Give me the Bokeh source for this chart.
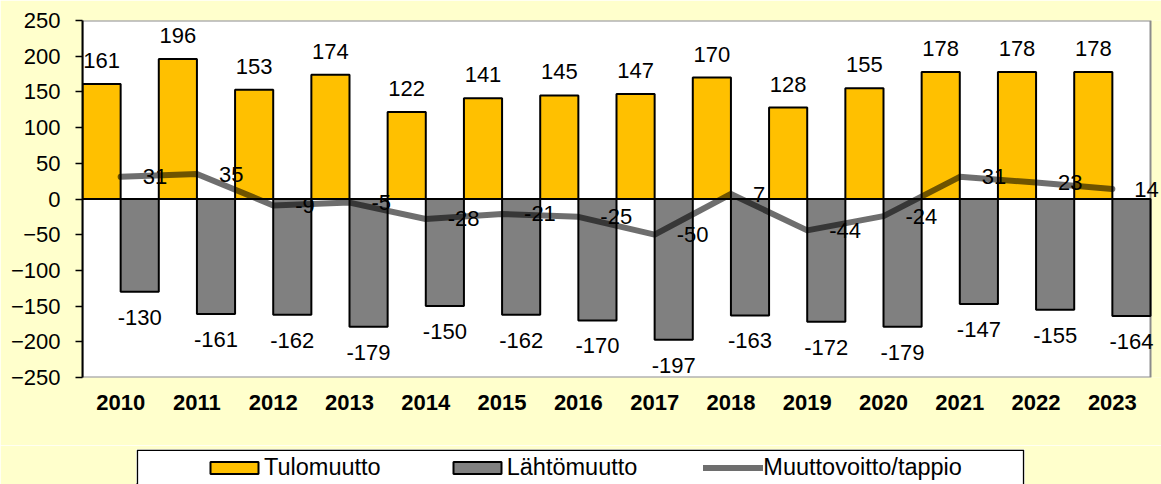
from bokeh.plotting import figure
from bokeh.models import (ColumnDataSource, Legend, LegendItem, Range1d, FixedTicker,
                          LabelSet, BoxAnnotation)
from bokeh.transform import dodge
from bokeh.layouts import column
from bokeh.embed import file_html
from bokeh.resources import INLINE
from bokeh.core.properties import value

# ---- data ----
years = ["2010", "2011", "2012", "2013", "2014", "2015", "2016",
         "2017", "2018", "2019", "2020", "2021", "2022", "2023"]
tulomuutto = [161, 196, 153, 174, 122, 141, 145, 147, 170, 128, 155, 178, 178, 178]
lahtomuutto = [-130, -161, -162, -179, -150, -162, -170, -197, -163, -172, -179, -147, -155, -164]
nettomuutto = [31, 35, -9, -5, -28, -21, -25, -50, 7, -44, -24, 31, 23, 14]
y_ticks = [-250, -200, -150, -100, -50, 0, 50, 100, 150, 200, 250]
series_names = ["Tulomuutto", "Lähtömuutto", "Muuttovoitto/tappio"]

FONT = "Liberation Sans"
BG = "#FFFFCC"
ORANGE = "#FFC000"
GREY = "#808080"

n = len(years)
x_center = [i + 0.5 for i in range(n)]   # category centres on a numeric axis

src = ColumnDataSource(dict(
    xc=x_center, tulo=tulomuutto, lahto=lahtomuutto, netto=nettomuutto,
    tulo_lbl=[str(v) for v in tulomuutto],
    lahto_lbl=[str(v) for v in lahtomuutto],
    netto_lbl=[str(v) for v in nettomuutto],
))

# frame runs to the right window edge so that labels past the last category stay visible
p = figure(width=1161, height=445,
           x_range=Range1d(0, n * 1079 / 1068),
           y_range=Range1d(y_ticks[0], y_ticks[-1]),
           output_backend="svg", toolbar_location=None,
           min_border_left=82, min_border_right=0,
           min_border_top=20, min_border_bottom=68)
p.frame_align = False
p.background_fill_color = BG
p.border_fill_color = BG
p.outline_line_color = None
p.grid.visible = False

# white plot area with grey border (top / right / bottom)
p.add_layout(BoxAnnotation(left=0, right=n, bottom=y_ticks[0], top=y_ticks[-1],
                           fill_color="white", fill_alpha=1.0,
                           line_color="#8c8c8c", line_alpha=1.0, line_width=2,
                           level="underlay"))

r1 = p.vbar(x=dodge("xc", -0.25), top="tulo", bottom=0, width=0.5,
            source=src, fill_color=ORANGE, line_color="black", line_width=2)
r2 = p.vbar(x=dodge("xc", 0.25), top="lahto", bottom=0, width=0.5,
            source=src, fill_color=GREY, line_color="black", line_width=2)
# zero (category) axis line
p.add_layout(BoxAnnotation(left=0, right=n, bottom=0, top=0, fill_alpha=0,
                           line_color="black", line_alpha=1.0, line_width=2))
r3 = p.line(x="xc", y="netto", source=src, line_color="black", line_alpha=0.57,
            line_width=6, line_join="round", line_cap="round")

lbl_style = dict(text_font=value(FONT), text_font_size="22px", text_color="black")
p.add_layout(LabelSet(x=dodge("xc", -0.25), y="tulo", text="tulo_lbl",
                      source=src, text_align="center", text_baseline="alphabetic",
                      y_offset=16, **lbl_style))
p.add_layout(LabelSet(x=dodge("xc", 0.25), y="lahto", text="lahto_lbl",
                      source=src, text_align="center", text_baseline="alphabetic",
                      y_offset=-33, **lbl_style))
p.add_layout(LabelSet(x="xc", y="netto", text="netto_lbl", source=src,
                      text_align="left", text_baseline="middle", x_offset=22,
                      **lbl_style))

yax = p.yaxis[0]
yax.ticker = FixedTicker(ticks=y_ticks)
yax.major_label_text_font = FONT
yax.major_label_text_font_size = "22px"
yax.major_label_text_color = "black"
yax.axis_line_color = "black"
yax.axis_line_width = 2
yax.major_tick_line_color = "black"
yax.major_tick_line_width = 1.5
yax.major_tick_in = 0
yax.major_tick_out = 7
yax.minor_tick_line_color = None
yax.major_label_standoff = 15

xax = p.xaxis[0]
xax.ticker = FixedTicker(ticks=x_center)
xax.major_label_overrides = {x: y for x, y in zip(x_center, years)}
xax.axis_line_color = None
xax.major_tick_line_color = None
xax.minor_tick_line_color = None
xax.major_tick_out = 0
xax.major_tick_in = 0
xax.major_label_text_font = FONT
xax.major_label_text_font_size = "22px"
xax.major_label_text_font_style = "bold"
xax.major_label_text_color = "black"
xax.major_label_standoff = 17

# ---- legend panel ----
leg = figure(width=1161, height=39, x_range=Range1d(0, 1), y_range=Range1d(0, 1),
             output_backend="svg", toolbar_location=None,
             x_axis_location=None, y_axis_location=None,
             min_border_left=136, min_border_right=137,
             min_border_top=4, min_border_bottom=0)
leg.frame_align = False
leg.background_fill_color = "white"
leg.border_fill_color = BG
leg.outline_line_color = None
leg.grid.visible = False
# legend box: top/left/right edges, bottom edge runs past the window like the original
leg.add_layout(BoxAnnotation(left=0.001, right=0.999, top=0.98, bottom=-1, fill_alpha=0,
                             line_color="black", line_alpha=1.0, line_width=1.5))

# legend-only renderers, kept outside the visible range
lr1 = leg.vbar(x=[-10], top=[-10], width=0.1, fill_color=ORANGE, line_color="black", line_width=2)
lr2 = leg.vbar(x=[-10], top=[-10], width=0.1, fill_color=GREY, line_color="black", line_width=2)
lr3 = leg.line(x=[-10, -9], y=[-10, -10], line_color="black", line_alpha=0.57,
               line_width=6, line_cap="round")

legend = Legend(items=[LegendItem(label=series_names[0], renderers=[lr1]),
                       LegendItem(label=series_names[1], renderers=[lr2]),
                       LegendItem(label=series_names[2], renderers=[lr3])],
                orientation="horizontal", location=(68, 3),
                glyph_width=60, glyph_height=15, label_standoff=0, spacing=66,
                padding=0, margin=0, border_line_alpha=0, background_fill_alpha=0,
                label_text_font=FONT, label_text_font_size="23.5px",
                label_text_color="black", label_height=24)
leg.add_layout(legend)

layout = column(p, leg, spacing=0)
open("out.html", "w").write(file_html(layout, INLINE))
